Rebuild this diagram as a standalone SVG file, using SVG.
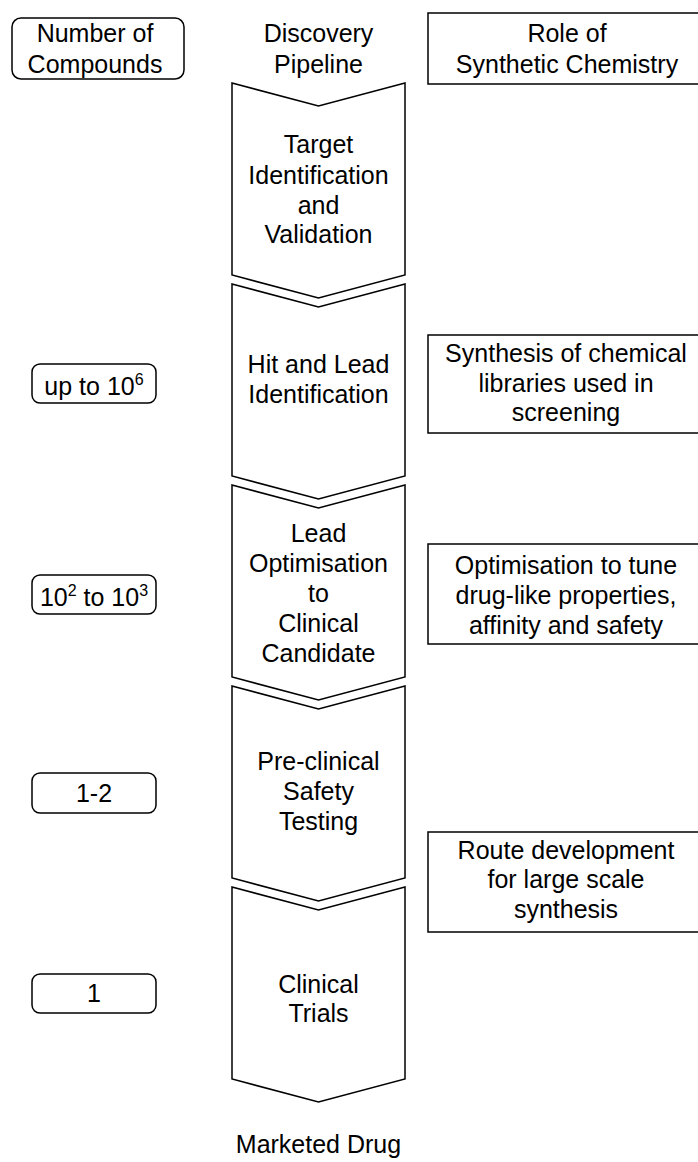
<svg xmlns="http://www.w3.org/2000/svg" width="698" height="1162" viewBox="0 0 698 1162">
  <style>
    text { font-family: "Liberation Sans", Arial, sans-serif; font-size: 25px; fill: #000; text-anchor: middle; }
    .sup { font-size: 16px; }
    .box { fill: #fff; stroke: #000; stroke-width: 1.5; }
    .chev { fill: #fff; stroke: #000; stroke-width: 1.5; stroke-linejoin: miter; }
  </style>
  <defs>
    <!-- one pipeline stage: notched top, pointed bottom -->
    <path id="chevron" class="chev" d="M232,0 L318.5,23 L405,0 L405,192 L318.5,215 L232,192 Z"/>
  </defs>
  <rect width="698" height="1162" fill="#fff"/>

  <!-- column headings -->
  <g id="head-compounds">
    <rect class="box" x="12" y="18" width="172" height="61" rx="9"/>
    <text x="95" y="42">Number of</text>
    <text x="95" y="73">Compounds</text>
  </g>
  <g id="head-pipeline">
    <text x="318.5" y="42">Discovery</text>
    <text x="318.5" y="73">Pipeline</text>
  </g>
  <g id="head-role">
    <rect class="box" x="428" y="13" width="282" height="71"/>
    <text x="567" y="42">Role of</text>
    <text x="567" y="73">Synthetic Chemistry</text>
  </g>

  <!-- pipeline stages -->
  <g id="stage-target">
    <use href="#chevron" y="83"/>
    <text x="318.5" y="153">Target</text>
    <text x="318.5" y="184">Identification</text>
    <text x="318.5" y="214">and</text>
    <text x="318.5" y="243">Validation</text>
  </g>
  <g id="stage-hit-lead">
    <use href="#chevron" y="284"/>
    <text x="318.5" y="373">Hit and Lead</text>
    <text x="318.5" y="403">Identification</text>
  </g>
  <g id="stage-lead-opt">
    <use href="#chevron" y="485"/>
    <text x="318.5" y="542">Lead</text>
    <text x="318.5" y="572">Optimisation</text>
    <text x="318.5" y="602">to</text>
    <text x="318.5" y="632">Clinical</text>
    <text x="318.5" y="662">Candidate</text>
  </g>
  <g id="stage-preclinical">
    <use href="#chevron" y="686"/>
    <text x="318.5" y="770">Pre-clinical</text>
    <text x="318.5" y="800">Safety</text>
    <text x="318.5" y="830">Testing</text>
  </g>
  <g id="stage-clinical">
    <use href="#chevron" y="887"/>
    <text x="318.5" y="993">Clinical</text>
    <text x="318.5" y="1022">Trials</text>
  </g>
  <g id="outcome">
    <text x="318.5" y="1153">Marketed Drug</text>
  </g>

  <!-- compound counts -->
  <g id="count-hit">
    <rect class="box" x="32" y="364" width="124" height="39" rx="8"/>
    <text x="94" y="395">up to 10<tspan class="sup" dy="-10">6</tspan></text>
  </g>
  <g id="count-lead">
    <rect class="box" x="32" y="575" width="124" height="39" rx="8"/>
    <text x="94" y="606">10<tspan class="sup" dy="-10">2</tspan><tspan dy="10"> to 10</tspan><tspan class="sup" dy="-10">3</tspan></text>
  </g>
  <g id="count-preclinical">
    <rect class="box" x="32" y="773" width="124" height="40" rx="8"/>
    <text x="94" y="802">1-2</text>
  </g>
  <g id="count-clinical">
    <rect class="box" x="32" y="974" width="124" height="39" rx="8"/>
    <text x="94" y="1002">1</text>
  </g>

  <!-- role of synthetic chemistry -->
  <g id="role-libraries">
    <rect class="box" x="428" y="335" width="282" height="98"/>
    <text x="566" y="362">Synthesis of chemical</text>
    <text x="566" y="392">libraries used in</text>
    <text x="566" y="421">screening</text>
  </g>
  <g id="role-optimisation">
    <rect class="box" x="428" y="544" width="282" height="100"/>
    <text x="566" y="574">Optimisation to tune</text>
    <text x="566" y="604">drug-like properties,</text>
    <text x="566" y="634">affinity and safety</text>
  </g>
  <g id="role-route">
    <rect class="box" x="428" y="832" width="282" height="100"/>
    <text x="566" y="859">Route development</text>
    <text x="566" y="888">for large scale</text>
    <text x="566" y="918">synthesis</text>
  </g>

  <g id="connectors"/>
</svg>
